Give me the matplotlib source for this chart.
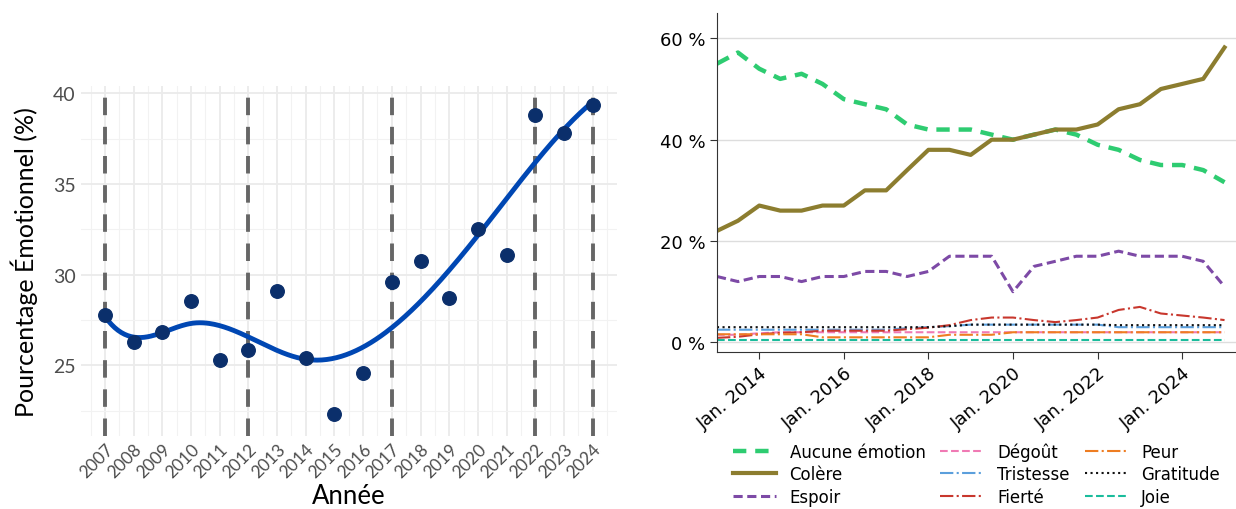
import numpy as np
import pandas as pd
import matplotlib
matplotlib.use('Agg')
import matplotlib.pyplot as plt

# Left panel data: yearly emotional percentage
years = np.arange(2007, 2025)
pct_emotion = [27.76, 26.3, 26.84, 28.53, 25.29, 25.84, 29.1, 25.4, 22.33, 24.59,
               29.61, 30.73, 28.73, 32.5, 31.06, 38.8, 37.79, 39.34]
highlight_years = [2007, 2012, 2017, 2022, 2024]
spline_knots = [2010, 2014, 2020]

# Right panel data: semi-annual share of each emotion (%)
dates = pd.date_range('2013-01-01', '2025-01-01', freq='6MS')
aucune = [55, 57.2, 54, 52, 53, 51, 48, 47, 46, 43, 42, 42, 42, 41, 40, 41, 42, 41,
          39, 38, 36, 35, 35, 34, 31.6]
colere = [22, 24, 27, 26, 26, 27, 27, 30, 30, 34, 38, 38, 37, 40, 40, 41, 42, 42,
          43, 46, 47, 50, 51, 52, 58.2]
espoir = [13, 12, 13, 13, 12, 13, 13, 14, 14, 13, 14, 17, 17, 17, 10, 15, 16, 17,
          17, 18, 17, 17, 17, 16, 11]
degout = [1.5, 1.5, 1.8, 2, 2, 2, 2, 2, 2, 2, 2, 2, 2, 2, 2, 2, 2, 2,
          2, 2, 2, 2, 2, 2, 2]
tristesse = [2.5, 2.5, 2.5, 2.5, 2.5, 2.5, 2.5, 2.5, 2.5, 2.8, 3, 3.2, 3.5, 3.5, 3.5, 3.5, 3.5, 3.5,
             3.5, 3, 3, 3, 3, 3, 3]
fierte = [0.9, 1.1, 1.6, 1.9, 2.0, 2.3, 2.3, 2.3, 2.3, 2.6, 2.9, 3.4, 4.4, 4.9, 4.9, 4.4, 4.0, 4.4,
          4.9, 6.4, 7.0, 5.7, 5.3, 4.9, 4.4]
peur = [1.6, 1.6, 1.6, 1.6, 1.6, 1.0, 1.0, 1.0, 1.0, 1.0, 1.0, 1.5, 1.5, 1.5, 2, 2, 2, 2,
        2, 2, 2, 2, 2, 2, 2]
gratitude = [3, 3, 3, 3, 3, 3, 3, 3, 3, 3, 3, 3.2, 3.5, 3.5, 3.5, 3.5, 3.5, 3.5,
             3.5, 3.4, 3.4, 3.4, 3.4, 3.4, 3.4]
joie = [0.4] * 25

emotions = ['Aucune émotion', 'Colère', 'Espoir', 'Dégoût', 'Tristesse', 'Fierté',
            'Peur', 'Gratitude', 'Joie']
series = [aucune, colere, espoir, degout, tristesse, fierte, peur, gratitude, joie]
colors = ['#2ecc71', '#8c7d2f', '#7d4aa6', '#f07ab4', '#5b9fdc', '#c8372d',
          '#ee7d22', '#111111', '#1abc9c']
styles = [(0, (3, 2)), '-', (0, (3, 1.5)), '--', '-.', '-.', '-.', ':', '--']
widths = [3.2, 3.0, 2.2, 1.5, 1.5, 1.5, 1.5, 1.5, 1.5]


def spline_basis(x, knots, x0):
    x = np.asarray(x, float) - x0
    cols = [np.ones_like(x), x, x ** 2, x ** 3]
    for k in knots:
        cols.append(np.clip(x - (k - x0), 0, None) ** 3)
    return np.vstack(cols).T


def lsq_spline(x, y, xs, knots):
    # least-squares cubic regression spline
    x0 = np.mean(x)
    B = spline_basis(x, knots, x0)
    beta = np.linalg.lstsq(B, np.asarray(y, float), rcond=None)[0]
    return spline_basis(xs, knots, x0) @ beta


fig = plt.figure(figsize=(12.36, 5.10), dpi=100)

# ---- Left panel
ax1 = fig.add_axes([80.6 / 1236, 1 - 437 / 510, (617 - 80.6) / 1236, (437 - 87) / 510])
font_l = 'Lato'
ax1.set_xlim(2006.15, 2024.85)
ax1.set_ylim(21.1, 40.4)
ax1.set_xticks(years)
ax1.set_xticks(np.arange(2006.5, 2025, 1), minor=True)
ax1.set_yticks([25, 30, 35, 40])
ax1.set_yticks([22.5, 27.5, 32.5, 37.5], minor=True)
ax1.grid(True, which='major', color='#ebebeb', lw=1.3)
ax1.grid(True, which='minor', color='#f2f2f2', lw=0.8)
ax1.set_axisbelow(True)
for s in ax1.spines.values():
    s.set_visible(False)
ax1.tick_params(which='both', length=0)
for yr in highlight_years:
    ax1.axvline(yr, color='#666666', lw=2.8, ls=(0, (4.5, 3)), zorder=1)

xs = np.linspace(2007, 2024, 300)
ax1.plot(xs, lsq_spline(years, pct_emotion, xs, spline_knots), color='#0047b3', lw=3.5, zorder=3)
ax1.scatter(years, pct_emotion, s=95, color='#0b2f6b', zorder=4)
ax1.set_xticklabels([str(y) for y in years], rotation=45, ha='right',
                    rotation_mode='anchor', fontsize=12.5, color='#4d4d4d', family=font_l)
ax1.set_yticklabels(['25', '30', '35', '40'], fontsize=14, color='#4d4d4d', family=font_l)
ax1.set_xlabel('Année', fontsize=18.5, family=font_l, labelpad=2)
ax1.set_ylabel('Pourcentage Émotionnel (%)', fontsize=18, family=font_l, labelpad=11)

# ---- Right panel
ax2 = fig.add_axes([717 / 1236, 1 - 352.5 / 510, (1236 - 717) / 1236, (352.5 - 14) / 510])
lines = []
for name, vals, c, st, lw in zip(emotions, series, colors, styles, widths):
    ln, = ax2.plot(dates, vals, color=c, ls=st, lw=lw, label=name)
    lines.append(ln)
ax2.set_xlim(pd.Timestamp('2013-01-01'), pd.Timestamp('2025-04-10'))
ax2.set_ylim(-1.8, 65)
ax2.set_yticks([0, 20, 40, 60])
ax2.set_yticklabels(['0 %', '20 %', '40 %', '60 %'], fontsize=13)
ax2.yaxis.grid(True, color='#dddddd', lw=1)
ax2.set_axisbelow(True)
ax2.spines['top'].set_visible(False)
ax2.spines['right'].set_visible(False)
ax2.spines['left'].set_color('#333333')
ax2.spines['bottom'].set_color('#333333')
tick_dates = pd.date_range('2014-01-01', '2024-01-01', freq='2YS')
ax2.set_xticks(tick_dates)
ax2.set_xticklabels(['Jan. ' + str(d.year) for d in tick_dates], rotation=40,
                    ha='right', rotation_mode='anchor', fontsize=13)
ax2.tick_params(length=5, color='#333333')
ax2.legend(handles=lines, ncol=3, frameon=False, fontsize=12,
           loc='upper center', bbox_to_anchor=(0.5, -0.233), handlelength=2.6,
           columnspacing=0.9, labelspacing=0.28, borderaxespad=0.3)

fig.savefig('out.png', dpi=100)
